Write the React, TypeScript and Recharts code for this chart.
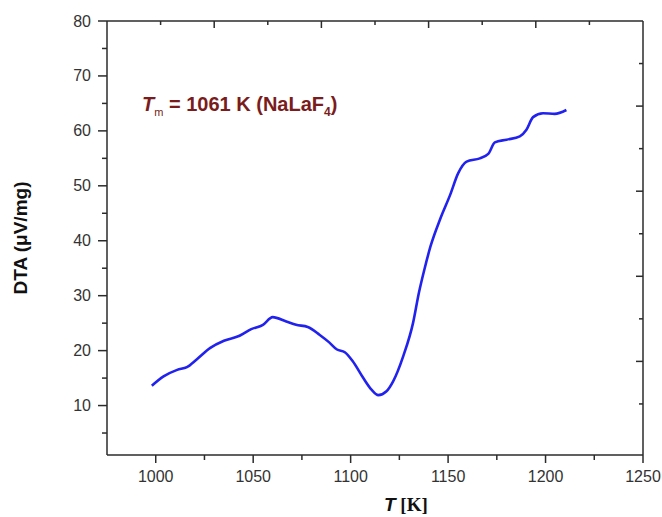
import {Line, LineChart, XAxis, YAxis} from 'recharts';

// temperature (K) and DTA signal (µV/mg)
const temps = [
  998, 1004, 1011, 1016, 1021, 1028, 1035, 1043, 1049, 1055, 1060, 1067, 1072,
  1078, 1084, 1089, 1093, 1097, 1101, 1106.5, 1110.7, 1114.2, 1118.4, 1121.8,
  1127, 1132, 1135, 1138, 1141, 1146, 1151, 1155.2, 1159.5, 1166.3, 1170.6,
  1174, 1180, 1186.8, 1190.2, 1193.6, 1198.7, 1204.7, 1210.7,
];
const dta = [
  13.6, 15.3, 16.5, 17.0, 18.4, 20.5, 21.8, 22.7, 23.9, 24.7, 26.1, 25.3, 24.7,
  24.3, 22.9, 21.5, 20.2, 19.7, 18.1, 15.0, 12.9, 11.9, 12.6, 14.4, 19.0, 25.0,
  30.5, 35.0, 39.0, 44.0, 48.3, 52.3, 54.4, 55.0, 55.8, 57.9, 58.4, 59.0, 60.2,
  62.5, 63.2, 63.1, 63.8,
];

const xTicks = [1000, 1025, 1050, 1075, 1100, 1125, 1150, 1175, 1200, 1225, 1250];
const yTicks = [5, 10, 15, 20, 25, 30, 35, 40, 45, 50, 55, 60, 65, 70, 75, 80];
// the top and right frame carry their own unlabeled scale (ten divisions)
const topTicks = [1002.5, 1030, 1057.5, 1085, 1112.5, 1140, 1167.5, 1195, 1222.5];
const rightTicks = [1, 2, 3, 4, 5, 6, 7, 8, 9];

const data = temps.map((t, i) => ({t, v: dta[i]}));

const AXIS = '#2b2b2b';
const LABEL = '#333333';
const FONT = '"Liberation Sans", Arial, sans-serif';

function BottomTick({x, y, payload}: any) {
  const major = payload.value % 50 === 0;
  return (
    <g>
      <line x1={x} y1={y} x2={x} y2={y + (major ? 8 : 5)} stroke={AXIS} strokeWidth={1.5} />
      {major && (
        <text x={x} y={y + 27} textAnchor="middle" fill={LABEL} fontSize={16} fontFamily={FONT}>
          {payload.value}
        </text>
      )}
    </g>
  );
}

function LeftTick({x, y, payload}: any) {
  const major = payload.value % 10 === 0;
  return (
    <g>
      <line x1={x} y1={y} x2={x - (major ? 9 : 5)} y2={y} stroke={AXIS} strokeWidth={1.5} />
      {major && (
        <text x={x - 16} y={y + 5.5} textAnchor="end" fill={LABEL} fontSize={16} fontFamily={FONT}>
          {payload.value}
        </text>
      )}
    </g>
  );
}

function TopTick({x, y, payload}: any) {
  const len = topTicks.indexOf(payload.value) % 2 === 1 ? 7 : 4;
  return <line x1={x} y1={y} x2={x} y2={y + len} stroke={AXIS} strokeWidth={1.5} />;
}

function RightTick({x, y, payload}: any) {
  const len = payload.value % 2 === 0 ? 7 : 4;
  return <line x1={x} y1={y} x2={x - len} y2={y} stroke={AXIS} strokeWidth={1.5} />;
}

export default function App() {
  return (
    <div style={{position: 'absolute', left: 0, top: 0, width: 662, height: 517, background: '#fff'}}>
      <LineChart width={662} height={517} data={data} margin={{top: 20, right: 18, bottom: 0, left: 0}}>
        <XAxis
          xAxisId="b"
          dataKey="t"
          type="number"
          domain={[975, 1250]}
          allowDataOverflow
          ticks={xTicks}
          interval={0}
          height={62}
          tickSize={0}
          tickMargin={0}
          tickLine={false}
          tick={<BottomTick />}
          axisLine={{stroke: AXIS, strokeWidth: 1.5}}
        />
        <XAxis
          xAxisId="t"
          dataKey="t"
          orientation="top"
          type="number"
          domain={[975, 1250]}
          allowDataOverflow
          ticks={topTicks}
          interval={0}
          height={1}
          tickSize={0}
          tickMargin={0}
          tickLine={false}
          tick={<TopTick />}
          axisLine={{stroke: AXIS, strokeWidth: 1.5}}
        />
        <YAxis
          yAxisId="l"
          type="number"
          domain={[1, 80]}
          allowDataOverflow
          ticks={yTicks}
          interval={0}
          width={107}
          tickSize={0}
          tickMargin={0}
          tickLine={false}
          tick={<LeftTick />}
          axisLine={{stroke: AXIS, strokeWidth: 1.5}}
        />
        <YAxis
          yAxisId="r"
          orientation="right"
          type="number"
          domain={[-0.2, 10]}
          allowDataOverflow
          ticks={rightTicks}
          interval={0}
          width={1}
          tickSize={0}
          tickMargin={0}
          tickLine={false}
          tick={<RightTick />}
          axisLine={{stroke: AXIS, strokeWidth: 1.5}}
        />
        <Line
          xAxisId="b"
          yAxisId="l"
          type="monotone"
          dataKey="v"
          stroke="#2222ee"
          strokeWidth={2.6}
          dot={false}
          isAnimationActive={false}
        />
      </LineChart>

      <div
        style={{
          position: 'absolute',
          left: 21,
          top: 238,
          transform: 'translate(-50%, -50%) rotate(-90deg)',
          whiteSpace: 'nowrap',
          fontFamily: FONT,
          fontWeight: 'bold',
          fontSize: 19,
          color: '#111',
        }}
      >
        DTA (μV/mg)
      </div>

      <div
        style={{
          position: 'absolute',
          left: 384,
          top: 494,
          whiteSpace: 'nowrap',
          fontSize: 19,
          fontWeight: 'bold',
          color: '#111',
        }}
      >
        <span style={{fontFamily: FONT, fontStyle: 'italic'}}>T</span>
        <span style={{fontFamily: '"Liberation Serif", serif'}}> [K]</span>
      </div>

      <div
        style={{
          position: 'absolute',
          left: 142,
          top: 93,
          whiteSpace: 'nowrap',
          fontFamily: FONT,
          fontWeight: 'bold',
          fontSize: 20,
          color: '#7a1c1c',
        }}
      >
        <span style={{fontStyle: 'italic'}}>T</span>
        <sub style={{fontSize: 11, fontWeight: 'normal'}}>m</sub> = 1061 K (NaLaF
        <sub style={{fontSize: 12}}>4</sub>)
      </div>
    </div>
  );
}
